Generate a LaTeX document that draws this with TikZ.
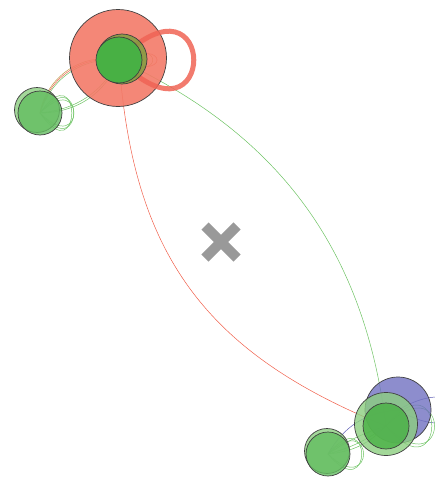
\documentclass[tikz,border=0pt]{standalone}
\usetikzlibrary{shapes.misc}
\definecolor{hubred}{RGB}{243,122,104}
\definecolor{ringred}{RGB}{240,100,85}
\definecolor{darkgreen}{RGB}{72,176,68}
\definecolor{lightgreen}{RGB}{140,206,128}
\definecolor{olivegreen}{RGB}{120,160,60}
\definecolor{blobblue}{RGB}{112,112,192}
\definecolor{edgegreen}{RGB}{110,195,100}
\definecolor{edgered}{RGB}{240,95,75}
\definecolor{edgeolive}{RGB}{190,150,70}
\definecolor{edgeblue}{RGB}{95,95,180}
\tikzset{vertex/.style={circle,draw=black!75,line width=0.7pt,inner sep=0pt,fill opacity=0.8}}
\tikzset{link/.style={line width=0.5pt}}
\tikzset{selfloop/.style={link,out=#1,in=-#1}}
\tikzset{xmark/.style={cross out,draw=black!40,line width=10pt,minimum size=22pt,inner sep=0pt}}

\begin{document}
\begin{tikzpicture}[x=1pt,y=1pt]
        \clip (0,0) rectangle (435,-479);

        % centres first, so the links go underneath the discs
        \coordinate (hubc) at (119,-60);
        \coordinate (leafc) at (40,-113);
        \coordinate (botc) at (386,-426);
        \coordinate (bluec) at (398,-410);
        \coordinate (smallc) at (328,-454);

        % long links between the two groups
        \draw[link,edgered] (hubc) to[out=-86,in=158,looseness=1.1] (botc);
        \draw[link,edgegreen] (hubc) to[out=-25,in=97,looseness=1.0] (botc);

        % links at the top left
        \draw[link,edgered] (leafc) to[bend left=42] (hubc);
        \draw[link,edgegreen] (leafc) to[bend left=38] (hubc);
        \draw[link,edgeolive] (leafc) to[bend left=46] (hubc);
        \draw[link,edgegreen] (leafc) to[bend right=28] (hubc);
        \draw[link,edgegreen] (leafc) to[bend right=33] (hubc);
        \draw[selfloop=50,min distance=70pt,edgegreen] (leafc) to (leafc);
        \draw[selfloop=45,min distance=64pt,edgegreen] (leafc) to (leafc);
        \draw[selfloop=55,min distance=74pt,edgegreen] (leafc) to (leafc);
        \draw[selfloop=30,min distance=52pt,edgeolive] (hubc) to (hubc);
        \draw[selfloop=38,min distance=48pt,edgeolive] (hubc) to (hubc);
        \draw[selfloop=25,min distance=56pt,edgered] (hubc) to (hubc);

        % links at the bottom right
        \draw[link,edgegreen] (smallc) to[bend left=8] (botc);
        \draw[link,edgegreen] (smallc) to[bend right=10] (botc);
        \draw[link,edgegreen] (smallc) to[bend right=20] (botc);
        \draw[link,edgeblue] (smallc) to[bend left=28] (bluec);
        \draw[selfloop=30,min distance=90pt,edgeblue] (bluec) to (bluec);
        \draw[selfloop=50,min distance=95pt,edgegreen] (botc) to (botc);
        \draw[selfloop=44,min distance=90pt,edgegreen] (botc) to (botc);
        \draw[selfloop=50,min distance=70pt,edgegreen] (smallc) to (smallc);
        \draw[selfloop=44,min distance=66pt,edgegreen] (smallc) to (smallc);

        % discs
        \node[vertex,fill=hubred,minimum size=97pt,fill opacity=0.9] (hub) at (118,-58) {};
        \draw[selfloop=45,min distance=141pt,ringred,line width=5pt,opacity=0.85] (hubc) to (hubc);
        \node[vertex,fill=olivegreen,minimum size=50pt] (hubring) at (122,-59) {};
        \node[vertex,fill=darkgreen,minimum size=46pt,fill opacity=1] (hubcore) at (hubc) {};

        \node[vertex,fill=lightgreen,minimum size=45pt] (leafa) at (37,-110) {};
        \node[vertex,fill=darkgreen!85!white,minimum size=44pt] (leafb) at (leafc) {};

        \node[vertex,fill=blobblue,minimum size=66pt] (blue) at (bluec) {};
        \node[vertex,fill=lightgreen,minimum size=63pt] (botring) at (386,-424) {};
        \node[vertex,fill=darkgreen,minimum size=46pt] (bot) at (botc) {};

        \node[vertex,fill=lightgreen,minimum size=45pt] (smalla) at (327,-451) {};
        \node[vertex,fill=darkgreen!85!white,minimum size=44pt] (smallb) at (smallc) {};

        \node[xmark] (centre) at (221,-242) {};
    \end{tikzpicture}
\end{document}
